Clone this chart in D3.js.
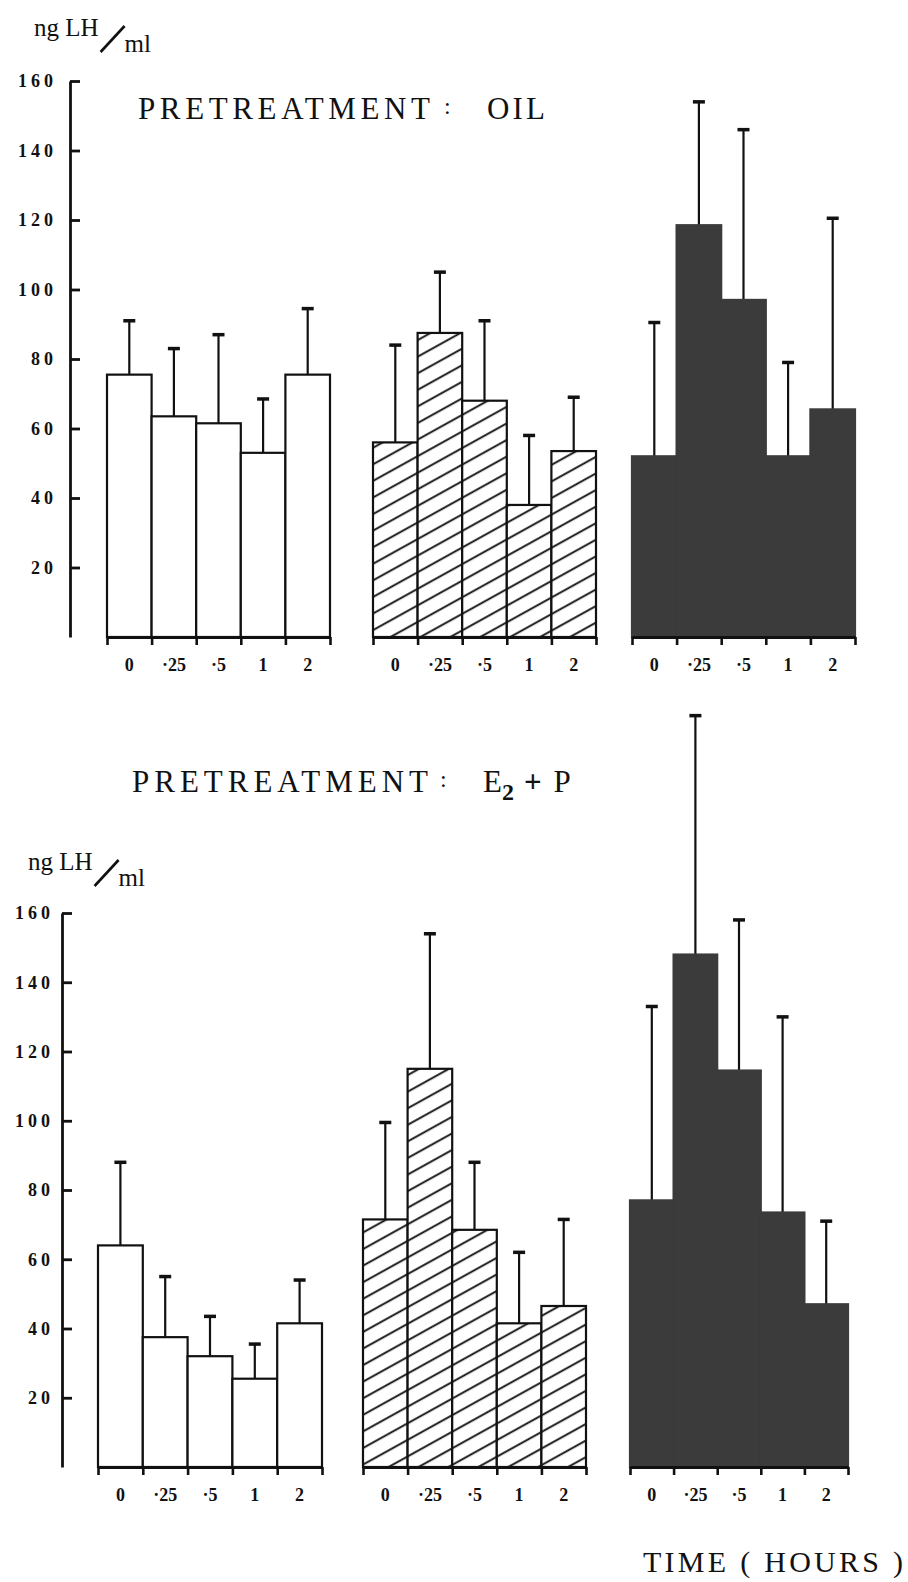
<!DOCTYPE html>
<html>
<head>
<meta charset="utf-8">
<script src="https://cdn.jsdelivr.net/npm/d3@7"></script>
<style>
  body { margin: 0; background: #fff; }
  svg text { font-family: "Liberation Serif", "DejaVu Serif", serif; fill: #111; }
</style>
</head>
<body>
<div id="chart"></div>
<script>
// ng LH / ml (mean and upper error bar = mean + sem)
const timeLabels = ["0", "·25", "·5", "1", "2"];
const yTicks = [20, 40, 60, 80, 100, 120, 140, 160];

// pretreatment: oil
const oilOpenMean = [75.5, 63.5, 61.5, 53, 75.5];
const oilOpenSem = [15.5, 19.5, 25.5, 15.5, 19];
const oilHatchMean = [56, 87.5, 68, 38, 53.5];
const oilHatchSem = [28, 17.5, 23, 20, 15.5];
const oilSolidMean = [52, 118.5, 97, 52, 65.5];
const oilSolidSem = [38.5, 35.5, 49, 27, 55];

// pretreatment: E2 + P
const epOpenMean = [64, 37.5, 32, 25.5, 41.5];
const epOpenSem = [24, 17.5, 11.5, 10, 12.5];
const epHatchMean = [71.5, 115, 68.5, 41.5, 46.5];
const epHatchSem = [28, 39, 19.5, 20.5, 25];
const epSolidMean = [77, 148, 114.5, 73.5, 47];
const epSolidSem = [56, 69, 43.5, 56.5, 24];

const W = 908, H = 1582;
const svg = d3.select("#chart").append("svg")
  .attr("width", W).attr("height", H);

const defs = svg.append("defs");
const pat = defs.append("pattern")
  .attr("id", "hatch")
  .attr("patternUnits", "userSpaceOnUse")
  .attr("width", 10).attr("height", 14.5)
  .attr("patternTransform", "rotate(-29)");
pat.append("rect").attr("width", 10).attr("height", 14.5).attr("fill", "#fff");
pat.append("line").attr("x1", 0).attr("x2", 10).attr("y1", 7).attr("y2", 7)
  .attr("stroke", "#111").attr("stroke-width", 1.9);

const fills = { open: "#fff", hatch: "url(#hatch)", solid: "#3b3b3b" };
const strokes = { open: "#111", hatch: "#111", solid: "#3b3b3b" };

const panels = [
  {
    yAxisX: 70, y0: 637, y160: 81, tickLabelEnd: 53, xLabelY: 671,
    groups: [
      { x: [107, 330], mean: oilOpenMean, sem: oilOpenSem, fill: "open" },
      { x: [373, 596], mean: oilHatchMean, sem: oilHatchSem, fill: "hatch" },
      { x: [632, 855], mean: oilSolidMean, sem: oilSolidSem, fill: "solid" }
    ]
  },
  {
    yAxisX: 62, y0: 1467, y160: 913, tickLabelEnd: 50, xLabelY: 1501,
    groups: [
      { x: [98, 322], mean: epOpenMean, sem: epOpenSem, fill: "open" },
      { x: [363, 586], mean: epHatchMean, sem: epHatchSem, fill: "hatch" },
      { x: [630, 848], mean: epSolidMean, sem: epSolidSem, fill: "solid" }
    ]
  }
];

panels.forEach(p => {
  const y = d3.scaleLinear().domain([0, 160]).range([p.y0, p.y160]);

  // y axis, ticks pointing inward
  const ls = 4;
  const yAxis = svg.append("g")
    .attr("transform", `translate(${p.yAxisX},0)`)
    .call(d3.axisLeft(y).tickValues(yTicks).tickSizeInner(-10).tickSizeOuter(0)
      .tickPadding(p.yAxisX - p.tickLabelEnd - ls));
  yAxis.select(".domain").attr("stroke", "#111").attr("stroke-width", 2.8);
  yAxis.selectAll(".tick line").attr("stroke", "#111").attr("stroke-width", 2.8);
  yAxis.selectAll(".tick text")
    .attr("font-size", 18).attr("font-weight", "bold")
    .attr("letter-spacing", ls + "px")
    .style("font-family", "'Liberation Serif', serif");

  p.groups.forEach(g => {
    const x = d3.scaleBand().domain(timeLabels).range(g.x).padding(0);
    const rows = timeLabels.map((t, i) => ({ t, m: g.mean[i], s: g.sem[i] }));
    const grp = svg.append("g");

    // error bars (upper only)
    grp.selectAll(".err").data(rows).enter().append("line")
      .attr("x1", d => x(d.t) + x.bandwidth() / 2)
      .attr("x2", d => x(d.t) + x.bandwidth() / 2)
      .attr("y1", d => y(d.m))
      .attr("y2", d => y(d.m + d.s))
      .attr("stroke", "#111").attr("stroke-width", 2.2);
    grp.selectAll(".cap").data(rows).enter().append("line")
      .attr("x1", d => x(d.t) + x.bandwidth() / 2 - 6)
      .attr("x2", d => x(d.t) + x.bandwidth() / 2 + 6)
      .attr("y1", d => y(d.m + d.s))
      .attr("y2", d => y(d.m + d.s))
      .attr("stroke", "#111").attr("stroke-width", 3.5);

    grp.selectAll("rect").data(rows).enter().append("rect")
      .attr("x", d => x(d.t))
      .attr("width", x.bandwidth())
      .attr("y", d => y(d.m))
      .attr("height", d => y(0) - y(d.m))
      .attr("fill", fills[g.fill])
      .attr("stroke", strokes[g.fill]).attr("stroke-width", 2.2);

    // x axis: ticks at bar edges, labels under bars
    const edges = d3.scaleLinear().domain([0, 5]).range(g.x);
    const xa = svg.append("g")
      .attr("transform", `translate(0,${p.y0})`)
      .call(d3.axisBottom(edges).tickValues(d3.range(6)).tickFormat("").tickSizeInner(8).tickSizeOuter(0));
    xa.select(".domain").attr("stroke", "#111").attr("stroke-width", 2.8);
    xa.selectAll(".tick line").attr("stroke", "#111").attr("stroke-width", 2.6);

    svg.append("g").selectAll("text").data(timeLabels).enter().append("text")
      .attr("x", d => x(d) + x.bandwidth() / 2)
      .attr("y", p.xLabelY)
      .attr("text-anchor", "middle")
      .attr("font-size", 18).attr("font-weight", "bold")
      .text(d => d);
  });
});

// unit labels  ng LH / ml
function unitLabel(x0, yb) {
  const t = svg.append("g");
  const a = t.append("text").attr("x", x0).attr("y", yb).attr("font-size", 25).text("ng LH");
  const w = a.node().getComputedTextLength();
  const sx = x0 + w + 2;
  t.append("line").attr("x1", sx).attr("y1", yb + 16).attr("x2", sx + 24).attr("y2", yb - 10)
    .attr("stroke", "#111").attr("stroke-width", 2.6);
  t.append("text").attr("x", sx + 24).attr("y", yb + 16).attr("font-size", 25).text("ml");
}
unitLabel(34, 36);
unitLabel(28, 870);

// titles
svg.append("text").attr("x", 138).attr("y", 119).attr("font-size", 31)
  .attr("textLength", 292).attr("lengthAdjust", "spacing").text("PRETREATMENT");
svg.append("text").attr("x", 444).attr("y", 114).attr("font-size", 24).text(":");
svg.append("text").attr("x", 487).attr("y", 119).attr("font-size", 31)
  .attr("textLength", 58).attr("lengthAdjust", "spacing").text("OIL");

svg.append("text").attr("x", 132).attr("y", 792).attr("font-size", 31)
  .attr("textLength", 296).attr("lengthAdjust", "spacing").text("PRETREATMENT");
svg.append("text").attr("x", 440).attr("y", 787).attr("font-size", 24).text(":");
const ep = svg.append("text").attr("x", 483).attr("y", 792).attr("font-size", 31);
ep.append("tspan").text("E");
ep.append("tspan").attr("dy", 8).attr("font-size", 24).attr("font-weight", "bold").text("2");
ep.append("tspan").attr("dy", -8).attr("dx", 10).attr("font-weight", "bold").text("+");
ep.append("tspan").attr("dx", 12).text("P");

svg.append("text").attr("x", 643).attr("y", 1572).attr("font-size", 30)
  .attr("textLength", 260).attr("lengthAdjust", "spacing").text("TIME ( HOURS )");
</script>
</body>
</html>
